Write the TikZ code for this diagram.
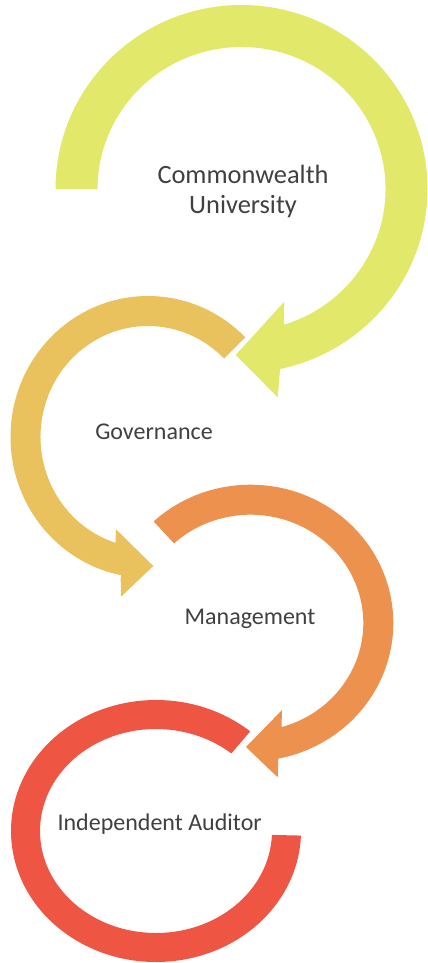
\documentclass[tikz,border=0pt]{standalone}
\usepackage{fontspec}
\setmainfont{Carlito}
\usetikzlibrary{calc}
\definecolor{ringA}{RGB}{226,233,106}
\definecolor{ringB}{RGB}{233,194,94}
\definecolor{ringC}{RGB}{236,145,78}
\definecolor{ringD}{RGB}{238,85,67}
\definecolor{txt}{RGB}{64,64,64}
\tikzset{
  lbl/.style={text=txt, inner sep=0pt, font=\fontsize{24}{30}\selectfont},
  biglbl/.style={lbl, font=\fontsize{26.4}{30}\selectfont},
}
\begin{document}
\begin{tikzpicture}[x=1pt,y=-1pt]
\useasboundingbox (0,0) rectangle (428,963);
% ring 1
\coordinate (c1) at (241.5,189);
\fill[ringA] ($(c1)+(180:186 and 184)$)
  arc[start angle=180,end angle=438.1,x radius=186,y radius=184]
  -- (280,370) -- (277.7,397.3) -- (235.7,355) -- (284.3,301.7) -- (284,325)
  -- ($(c1)+(432.9:144 and 142)$)
  arc[start angle=432.9,end angle=180,x radius=144,y radius=142] -- cycle;
% ring 2
\coordinate (c2) at (148,437);
\fill[ringB] ($(c2)+(315:137.5 and 141)$)
  arc[start angle=315,end angle=101.2,x radius=137.5,y radius=141]
  -- (120.7,578.5) -- (121,596.7) -- (153.3,566) -- (116,529.3) -- (115.5,544.5)
  -- ($(c2)+(107.3:107.5 and 111)$)
  arc[start angle=107.3,end angle=315,x radius=107.5,y radius=111] -- cycle;
% ring 3
\coordinate (c3) at (250.5,623);
\fill[ringC] ($(c3)+(227.3:142.8 and 138.3)$)
  arc[start angle=227.3,end angle=438.8,x radius=142.8,y radius=138.3]
  -- (278.3,759) -- (277.7,777.3) -- (246,747) -- (282,710) -- (281.5,726)
  -- ($(c3)+(433.9:112.8 and 108.3)$)
  arc[start angle=433.9,end angle=227.3,x radius=112.8,y radius=108.3] -- cycle;
% ring 4
\coordinate (c4) at (156,831);
\fill[ringD] ($(c4)+(310.5:145 and 131)$)
  arc[start angle=310.5,end angle=2,x radius=145,y radius=131]
  -- ($(c4)+(2.2:116 and 102)$)
  arc[start angle=2.2,end angle=310.5,x radius=116,y radius=102] -- cycle;
% labels
\node[biglbl, align=center, anchor=base] (t1) at (243,213.3) {Commonwealth\\University};
\node[lbl, anchor=base] (t2) at (154,439) {Governance};
\node[lbl, anchor=base] (t3) at (250,624) {Management};
\node[lbl, anchor=base] (t4) at (159.7,830) {Independent Auditor};
\end{tikzpicture}
\end{document}
